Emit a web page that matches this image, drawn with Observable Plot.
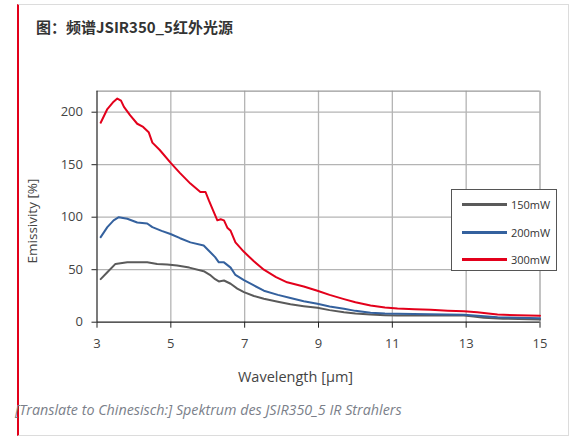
<!DOCTYPE html>
<html>
<head>
<meta charset="utf-8">
<script src="https://cdn.jsdelivr.net/npm/d3@7"></script>
<script src="https://cdn.jsdelivr.net/npm/@observablehq/plot@0.6"></script>
<style>
  body { margin: 0; background: #fff; font-family: "Open Sans", sans-serif; }
  #box { position: absolute; left: 17px; top: 4px; width: 549px; height: 430px;
         border: 1px solid #dcdcdc; border-left: 2px solid #e2001a; }
  #title { position: absolute; left: 36px; top: 16px; font: bold 15px "Noto Sans CJK SC", sans-serif; color: #333; }
  #myplot { position: absolute; left: 20px; top: 50px; }
  .lab { position: absolute; color: #444; white-space: nowrap; }
  #ylab { left: 31.7px; top: 221px; font-size: 13.5px; transform: translate(-50%, -50%) rotate(-90deg); }
  #xlab { left: 295.5px; top: 376px; font-size: 14.5px; transform: translate(-50%, -50%); }
  #legend { position: absolute; left: 451px; top: 189px; width: 104px; height: 80px;
            border: 1px solid #555; background: #fff; }
  .row { position: absolute; left: 10px; height: 12px; display: flex; align-items: center; }
  .row span.sw { display: inline-block; width: 45px; height: 3px; margin-right: 4px; }
  .row span.tx { font-size: 11px; color: #333; }
  #caption { position: absolute; left: 15px; top: 400px; font-style: italic; font-size: 14.3px; color: #7b7f8a; white-space: nowrap; }
</style>
</head>
<body>
<div id="box"></div>
<div id="title">图：频谱JSIR350_5红外光源</div>
<div id="myplot"></div>
<div class="lab" id="ylab">Emissivity [%]</div>
<div class="lab" id="xlab">Wavelength [µm]</div>
<div id="legend"></div>
<div id="caption">[Translate to Chinesisch:] Spektrum des JSIR350_5 IR Strahlers</div>
<script>
// series labels and colours
const series = ["150mW", "200mW", "300mW"];
const colors = ["#5a5a5a", "#34619e", "#e3001b"];

// 150mW
const wl150 = [3.1, 3.28, 3.5, 3.82, 4.1, 4.36, 4.63, 4.9, 5.17, 5.5, 5.89, 6.08, 6.2, 6.3, 6.44, 6.62, 6.8, 6.98, 7.25, 7.52, 7.9, 8.24, 8.6, 8.97, 9.3, 9.69, 10.0, 10.41, 10.8, 11.14, 12.0, 12.94, 13.2, 13.48, 14.0, 15];
const em150 = [41, 47.6, 55.5, 57, 57, 57, 55.5, 55, 54, 52, 48.6, 44.5, 41, 38.8, 39.7, 36.6, 32, 28.6, 25, 22.3, 19.5, 17, 15.3, 13.7, 11.5, 9.5, 8.3, 7.3, 6.7, 6.4, 6.4, 6.4, 5.5, 4.2, 3.3, 2.6];

// 200mW
const wl200 = [3.1, 3.28, 3.45, 3.59, 3.82, 4.09, 4.36, 4.5, 4.75, 4.99, 5.25, 5.53, 5.89, 6.03, 6.2, 6.3, 6.44, 6.62, 6.75, 6.98, 7.25, 7.52, 7.9, 8.24, 8.6, 8.97, 9.3, 9.69, 10.0, 10.41, 10.8, 11.14, 12.0, 12.94, 13.4, 13.85, 14.4, 15];
const em200 = [81, 90.5, 97, 100, 98.5, 95, 94, 90.5, 87, 84, 80, 76, 73, 68, 62, 57, 57, 52, 45, 40, 35, 30, 26, 23, 20, 17.5, 15, 12.8, 10.8, 9, 8.3, 8, 7.5, 7, 6, 4.8, 4.2, 3.8];

// 300mW
const wl300 = [3.1, 3.28, 3.45, 3.55, 3.65, 3.73, 3.9, 4.09, 4.25, 4.4, 4.5, 4.7, 4.99, 5.25, 5.53, 5.8, 5.94, 6.03, 6.15, 6.26, 6.35, 6.44, 6.53, 6.62, 6.75, 6.98, 7.25, 7.52, 7.85, 8.15, 8.6, 8.97, 9.3, 9.69, 10.0, 10.41, 10.8, 11.14, 11.6, 12.04, 12.5, 12.94, 13.3, 13.6, 13.85, 14.4, 15];
const em300 = [190, 203, 210, 213, 211, 205, 197, 189, 186, 181, 171, 164, 152, 142, 132, 124, 124, 116, 106, 97, 98, 97, 90, 87, 76, 67, 58, 50, 43, 38, 34, 30, 26, 22, 19, 16, 14, 13, 12.3, 11.8, 11, 10.5, 9.5, 8.2, 7.3, 6.6, 6.1];

const xTicks = [3, 5, 7, 9, 11, 13, 15];
const yTicks = [0, 50, 100, 150, 200];

const wls = [wl150, wl200, wl300];
const ems = [em150, em200, em300];
const data = series.flatMap((s, i) => wls[i].map((w, j) => ({series: s, wl: w, em: ems[i][j]})));

const plot = Plot.plot({
  width: 548,
  height: 340,
  marginLeft: 76.5,
  marginRight: 28.5,
  marginTop: 40.7,
  marginBottom: 68.3,
  style: {fontFamily: "Open Sans", fontSize: "13px", color: "#444", background: "transparent"},
  x: {domain: [3, 15]},
  y: {domain: [0, 220]},
  color: {domain: series, range: colors},
  marks: [
    Plot.gridX(xTicks.slice(1, -1), {stroke: "#b4b4b4", strokeOpacity: 1, strokeWidth: 1.3}),
    Plot.gridY(yTicks.slice(1), {stroke: "#b4b4b4", strokeOpacity: 1, strokeWidth: 1.3}),
    Plot.ruleY([220], {stroke: "#999", strokeWidth: 1.2}),
    Plot.ruleX([15], {stroke: "#999", strokeWidth: 1.2}),
    Plot.line(data, {x: "wl", y: "em", z: "series", stroke: "series", strokeWidth: 2}),
    Plot.ruleY([0], {stroke: "#222", strokeWidth: 1.2}),
    Plot.ruleX([3], {stroke: "#222", strokeWidth: 1.2}),
    Plot.axisX({ticks: xTicks, tickSize: 6, tickPadding: 11, label: null, stroke: "#222"}),
    Plot.axisY({ticks: yTicks, tickSize: 5, tickPadding: 9, label: null, stroke: "#222"})
  ]
});
document.querySelector("#myplot").append(plot);

// legend
const legend = document.querySelector("#legend");
series.forEach((s, i) => {
  const row = document.createElement("div");
  row.className = "row";
  row.style.top = Math.round(8 + i * 27.7) + "px";
  row.innerHTML = `<span class="sw" style="background:${colors[i]}"></span><span class="tx">${s}</span>`;
  legend.append(row);
});
</script>
</body>
</html>
